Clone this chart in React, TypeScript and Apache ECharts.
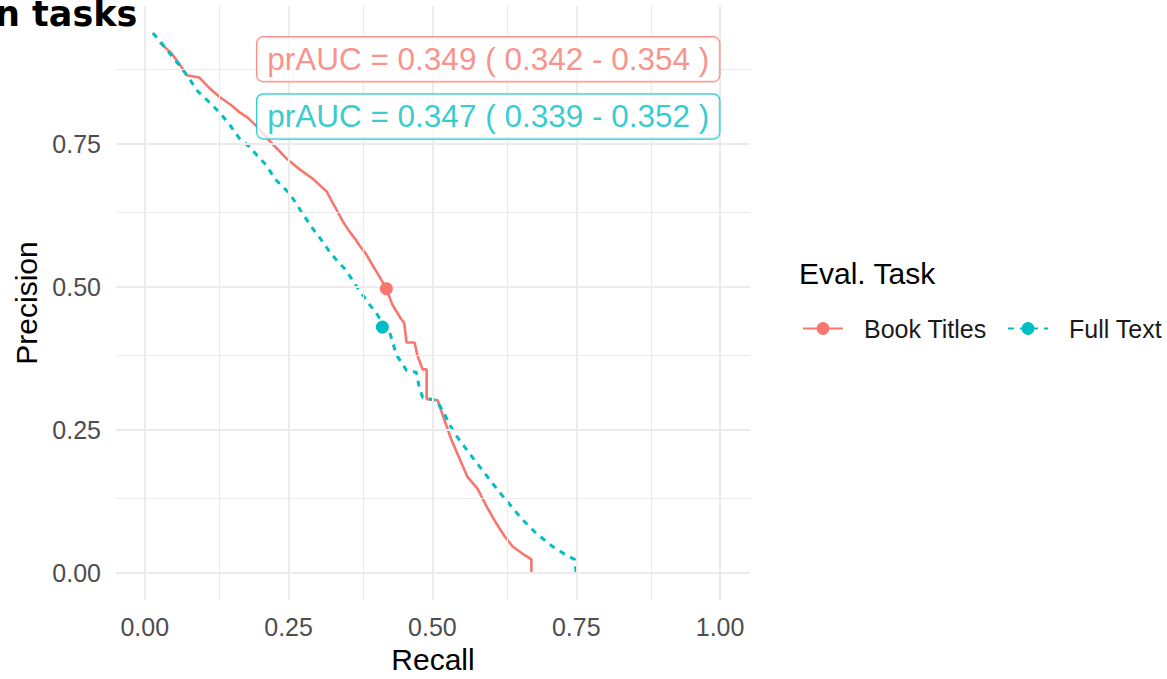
import React, { useEffect, useRef } from "react";
import * as echarts from "echarts";

const RED = "#F8766D";
const CYAN = "#00BFC4";

const seriesNames = ["Book Titles", "Full Text"];
const xTicks = [0, 0.25, 0.5, 0.75, 1];
const yTicks = [0, 0.25, 0.5, 0.75];
const xMinor = [0.125, 0.375, 0.625, 0.875];
const yMinor = [0.125, 0.375, 0.625, 0.875];

const bookTitles: [number, number][] = [
  [0.026, 0.927], [0.045, 0.91], [0.06, 0.89], [0.073, 0.87], [0.095, 0.866],
  [0.11, 0.85], [0.13, 0.832], [0.15, 0.818], [0.165, 0.805], [0.18, 0.795],
  [0.194, 0.781], [0.22, 0.752], [0.247, 0.724], [0.27, 0.705], [0.292, 0.689],
  [0.304, 0.678], [0.316, 0.667], [0.325, 0.65], [0.335, 0.632], [0.344, 0.615],
  [0.355, 0.598], [0.365, 0.585], [0.373, 0.573], [0.385, 0.557], [0.396, 0.538],
  [0.408, 0.518], [0.42, 0.497], [0.43, 0.47], [0.437, 0.458], [0.445, 0.445],
  [0.451, 0.437], [0.455, 0.403], [0.469, 0.403], [0.474, 0.38], [0.483, 0.356],
  [0.49, 0.356], [0.49, 0.304], [0.509, 0.302], [0.52, 0.27], [0.533, 0.233],
  [0.545, 0.205], [0.561, 0.168], [0.578, 0.148], [0.595, 0.115], [0.611, 0.087],
  [0.625, 0.065], [0.639, 0.047], [0.655, 0.035], [0.672, 0.024], [0.672, 0.0],
];

const fullText: [number, number][] = [
  [0.014, 0.944], [0.03, 0.925], [0.05, 0.9], [0.066, 0.88], [0.08, 0.86],
  [0.092, 0.842], [0.11, 0.825], [0.13, 0.805], [0.148, 0.783], [0.165, 0.759],
  [0.182, 0.745], [0.195, 0.73], [0.212, 0.712], [0.226, 0.689], [0.252, 0.663],
  [0.27, 0.635], [0.292, 0.602], [0.305, 0.585], [0.321, 0.562], [0.335, 0.545],
  [0.351, 0.528], [0.365, 0.505], [0.379, 0.486], [0.39, 0.47], [0.402, 0.455],
  [0.413, 0.438], [0.425, 0.423], [0.432, 0.4], [0.437, 0.382], [0.445, 0.37],
  [0.455, 0.354], [0.472, 0.351], [0.477, 0.325], [0.483, 0.307], [0.507, 0.302],
  [0.52, 0.28], [0.53, 0.259], [0.543, 0.238], [0.56, 0.215], [0.576, 0.194],
  [0.596, 0.168], [0.616, 0.142], [0.636, 0.118], [0.656, 0.094], [0.68, 0.07],
  [0.708, 0.047], [0.73, 0.033], [0.747, 0.024], [0.75, 0.0],
];

const thresholdPoints: [number, number][] = [
  [0.42, 0.497],
  [0.413, 0.43],
];

const aucLabels = [
  "prAUC = 0.349 ( 0.342 - 0.354 )",
  "prAUC = 0.347 ( 0.339 - 0.352 )",
];
const aucLabelPos: [number, number][] = [
  [0.597, 0.898],
  [0.597, 0.798],
];

const FONT = "Liberation Sans";

export default function App() {
  const ref = useRef<HTMLDivElement>(null);
  useEffect(() => {
    if (!ref.current) return;
    const chart = echarts.init(ref.current, null, { renderer: "svg" });
    const colors = [RED, CYAN];
    const lineData = [bookTitles, fullText];
    const dashTypes: any[] = ["solid", [6, 6]];
    const widths = [2.6, 3];

    const gridLines: any[] = [
      ...xTicks.map((v) => ({ xAxis: v, lineStyle: { width: 2 } })),
      ...xMinor.map((v) => ({ xAxis: v, lineStyle: { width: 1.2 } })),
      ...yTicks.map((v) => ({ yAxis: v, lineStyle: { width: 2 } })),
      ...yMinor.map((v) => ({ yAxis: v, lineStyle: { width: 1.2 } })),
    ];

    const legendBase = {
      top: 311,
      itemWidth: 40,
      itemHeight: 16,
      textStyle: {
        fontSize: 25,
        color: "#1A1A1A",
        fontFamily: FONT,
        padding: [0, 0, 0, 16],
      },
    };

    const option: any = {
      animation: false,
      textStyle: { fontFamily: FONT },
      grid: { left: 116, right: 417, top: 6, bottom: 75 },
      xAxis: {
        type: "value",
        min: -0.05,
        max: 1.052,
        name: "Recall",
        nameLocation: "middle",
        nameGap: 44,
        nameTextStyle: { fontSize: 30, color: "#000", fontFamily: FONT },
        axisLine: { show: false },
        axisTick: { show: false, customValues: xTicks },
        splitLine: { show: false },
        axisLabel: {
          customValues: xTicks,
          formatter: (v: number) => v.toFixed(2),
          fontSize: 25,
          color: "#4D4D4D",
          margin: 14,
          fontFamily: FONT,
        },
      },
      yAxis: {
        type: "value",
        min: -0.047,
        max: 0.991,
        name: "Precision",
        nameLocation: "middle",
        nameGap: 74,
        nameRotate: 90,
        nameTextStyle: { fontSize: 30, color: "#000", fontFamily: FONT },
        axisLine: { show: false },
        axisTick: { show: false, customValues: yTicks },
        splitLine: { show: false },
        axisLabel: {
          customValues: yTicks,
          formatter: (v: number) => v.toFixed(2),
          fontSize: 25,
          color: "#4D4D4D",
          margin: 15,
          fontFamily: FONT,
        },
      },
      legend: [
        { ...legendBase, data: [seriesNames[0]], left: 797 },
        { ...legendBase, data: [seriesNames[1]], left: 1002 },
      ],
      graphic: [
        {
          type: "text",
          x: -5,
          y: 14,
          style: {
            text: "n tasks",
            font: "bold 35px 'DejaVu Sans'",
            fill: "#000",
            verticalAlign: "middle",
            align: "left",
          },
        },
        {
          type: "text",
          x: 799,
          y: 273,
          style: {
            text: "Eval. Task",
            font: "30px 'Liberation Sans'",
            fill: "#000",
            verticalAlign: "middle",
            align: "left",
          },
        },
      ],
      series: [
        {
          type: "scatter",
          data: [],
          z: 0,
          silent: true,
          markLine: {
            silent: true,
            symbol: ["none", "none"],
            label: { show: false },
            lineStyle: { color: "#EBEBEB", type: "solid" },
            data: gridLines,
          },
        },
        ...seriesNames.map((name, i) => ({
          type: "line",
          name,
          data: lineData[i],
          showSymbol: false,
          symbol: "circle",
          z: 3,
          color: colors[i],
          lineStyle: { color: colors[i], width: widths[i], type: dashTypes[i] },
          itemStyle: { color: colors[i] },
          markPoint: {
            symbol: "circle",
            symbolSize: 13,
            itemStyle: { color: colors[i] },
            label: { show: false },
            data: [{ coord: thresholdPoints[i] }],
          },
        })),
        {
          type: "scatter",
          z: 5,
          silent: true,
          symbolSize: 1,
          itemStyle: { color: "transparent" },
          data: aucLabelPos.map((p, i) => ({
            value: p,
            label: {
              show: true,
              position: "inside",
              formatter: aucLabels[i],
              fontSize: 31.5,
              fontFamily: FONT,
              color: colors[i],
              backgroundColor: "#FFFFFF",
              borderColor: colors[i],
              borderWidth: 1.2,
              borderRadius: 6,
              padding: [6, 10, 6, 10],
            },
          })),
        },
      ],
    };
    chart.setOption(option);
    return () => chart.dispose();
  }, []);
  return (
    <div
      ref={ref}
      style={{ position: "fixed", left: 0, top: 0, width: 1167, height: 679, background: "#fff" }}
    />
  );
}
